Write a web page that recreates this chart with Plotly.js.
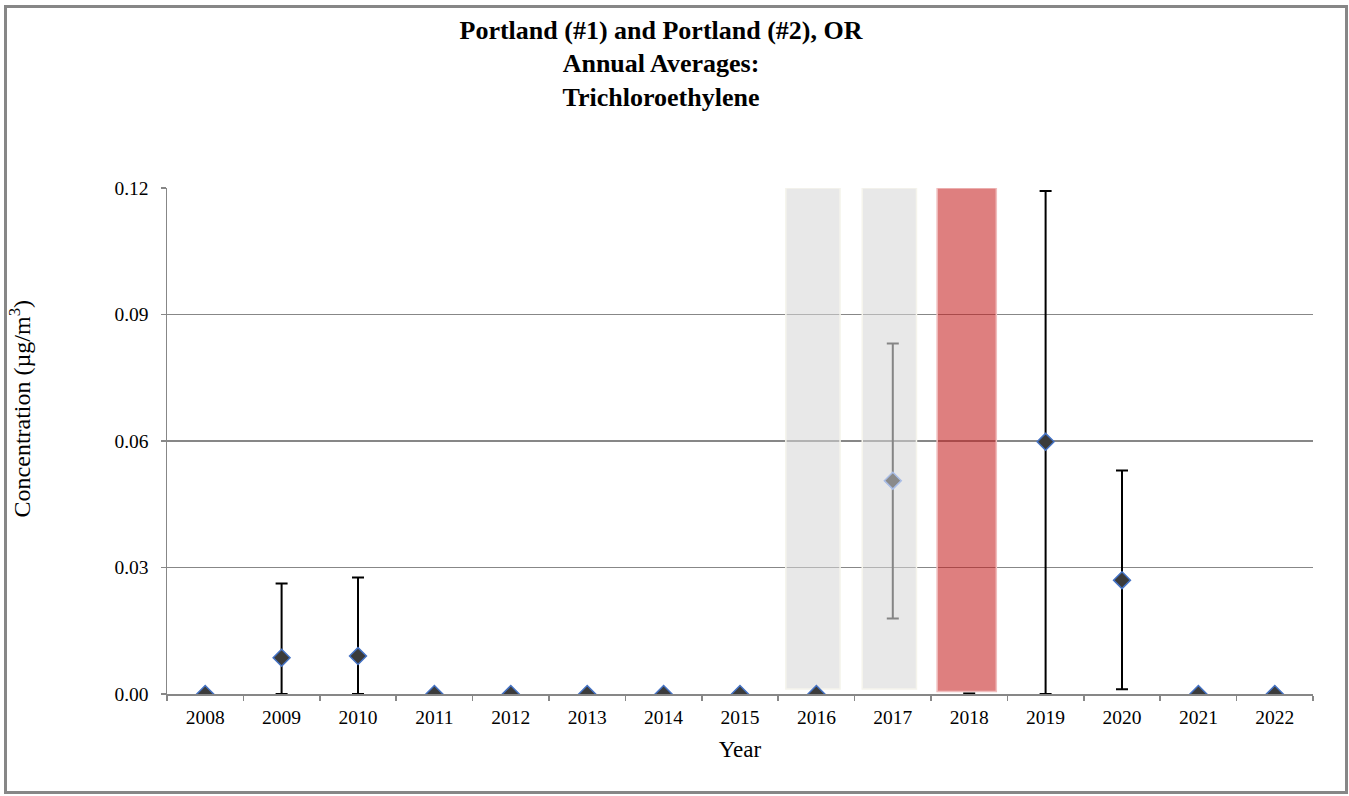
<!DOCTYPE html>
<html>
<head>
<meta charset="utf-8">
<script src="https://cdn.plot.ly/plotly-3.0.1.min.js"></script>
<style>
  html, body { margin: 0; padding: 0; background: #fff; }
  #wrap { position: relative; width: 1349px; height: 796px; }
  #chart { position: absolute; left: 0; top: 0; width: 1349px; height: 796px; }
  #frame { position: absolute; left: 4px; top: 5px; width: 1338px; height: 783px;
           border: 3px solid #878787; pointer-events: none; }
</style>
</head>
<body>
<div id="wrap"><div id="chart"></div><div id="frame"></div></div>
<script>
// ---- data ----
const years = ['2008','2009','2010','2011','2012','2013','2014','2015','2016','2017','2018','2019','2020','2021','2022'];

// annual averages (dark diamonds) and their error bars
const avgYears   = ['2008','2009','2010','2011','2012','2013','2014','2015','2016','2019','2020','2021','2022'];
const avgValues  = [0, 0.0086, 0.0090, 0, 0, 0, 0, 0, 0, 0.0598, 0.0270, 0, 0];
const errPlus    = [0, 0.0176, 0.0186, 0, 0, 0, 0, 0, 0, 0.0595, 0.0260, 0, 0];
const errMinus   = [0, 0.0086, 0.0090, 0, 0, 0, 0, 0, 0, 0.0598, 0.0259, 0, 0];

// incomplete-year average (grey diamond)
const greyYears  = ['2017'];
const greyValues = [0.0506];
const greyPlus   = [0.0325];
const greyMinus  = [0.0327];

// 2018 (value hidden behind band)
const hidYears   = ['2018'];
const hidValues  = [0];

// shaded bands
const grayBandYears = ['2016','2017'];
const grayBandBase  = [0.0012, 0.0012];
const grayBandTop   = [0.12, 0.12];
const redBandYears  = ['2018'];
const redBandBase   = [0.0006];
const redBandTop    = [0.12];

const yTicks = [0, 0.03, 0.06, 0.09, 0.12];

const titleText  = '<b>Portland (#1) and Portland (#2), OR<br>Annual Averages:<br>Trichloroethylene</b>';
const xTitleText = 'Year';
const yTitleText = 'Concentration (µg/m<sup>3</sup>)';

// ---- traces ----
const traces = [
  {
    type: 'bar', x: grayBandYears, base: grayBandBase,
    y: grayBandTop.map((t, i) => t - grayBandBase[i]),
    width: 0.71, offset: -0.4,
    marker: { color: 'rgba(213,213,213,0.55)', line: { color: 'rgba(245,244,236,1)', width: 1.5 } },
    hoverinfo: 'skip', showlegend: false
  },
  {
    type: 'bar', x: redBandYears, base: redBandBase,
    y: redBandTop.map((t, i) => t - redBandBase[i]),
    width: 0.775, offset: -0.42,
    marker: { color: 'rgba(196,27,27,0.56)', line: { color: 'rgba(240,190,190,1)', width: 1.5 } },
    hoverinfo: 'skip', showlegend: false
  },
  {
    type: 'scatter', mode: 'markers', x: hidYears, y: hidValues,
    marker: { symbol: 'diamond', size: 1, color: 'rgba(0,0,0,0)' },
    error_y: { type: 'data', symmetric: true, array: [0], color: '#000', thickness: 3, width: 6 },
    showlegend: false
  },
  {
    type: 'scatter', mode: 'markers', x: greyYears, y: greyValues,
    marker: { symbol: 'diamond', size: 13, color: '#8a8a8a', line: { color: '#a9bde6', width: 1.5 } },
    error_y: { type: 'data', symmetric: false, array: greyPlus, arrayminus: greyMinus,
               color: '#858585', thickness: 2, width: 6 },
    showlegend: false
  },
  {
    type: 'scatter', mode: 'markers', x: avgYears, y: avgValues,
    marker: { symbol: 'diamond', size: 13, color: '#3b3b3b', line: { color: '#4472c4', width: 1.5 } },
    error_y: { type: 'data', symmetric: false, array: errPlus, arrayminus: errMinus,
               color: '#000', thickness: 2, width: 6 },
    showlegend: false
  }
];

const serif = 'Liberation Serif, Times New Roman, serif';

const layout = {
  width: 1349, height: 796,
  margin: { l: 167, r: 36, t: 188, b: 102 },
  paper_bgcolor: '#fff', plot_bgcolor: '#fff',
  barmode: 'overlay',
  title: {
    text: titleText,
    font: { family: serif, size: 26, color: '#000' },
    x: 0.49, xref: 'container', xanchor: 'center',
    y: 0.9516, yref: 'container', yanchor: 'top'
  },
  xaxis: {
    type: 'category', categoryorder: 'array', categoryarray: years,
    range: [-0.5, years.length - 0.5],
    tickson: 'boundaries', ticks: 'outside', ticklen: 5, tickwidth: 1.5, tickcolor: '#878787',
    ticklabelstandoff: 5,
    showline: true, linecolor: '#878787', linewidth: 1.5,
    showgrid: false, zeroline: false,
    tickfont: { family: serif, size: 19.5, color: '#000' },
    title: { text: xTitleText, font: { family: serif, size: 23, color: '#000' }, standoff: 14 },
    fixedrange: true
  },
  yaxis: {
    range: [0, 0.12], tickvals: yTicks, tickformat: '.2f',
    ticks: 'outside', ticklen: 5, tickwidth: 1.5, tickcolor: '#878787',
    ticklabelstandoff: 8,
    showline: true, linecolor: '#878787', linewidth: 1.5,
    showgrid: true, gridcolor: '#878787', gridwidth: 1.5, zeroline: false,
    tickfont: { family: serif, size: 19.5, color: '#000' },
    fixedrange: true
  },
  annotations: [{
    text: yTitleText, textangle: -90, showarrow: false,
    xref: 'paper', yref: 'paper', x: -0.128, y: 0.565,
    xanchor: 'center', yanchor: 'middle',
    font: { family: serif, size: 24, color: '#000' }
  }],
  showlegend: false
};

Plotly.newPlot('chart', traces, layout, { displayModeBar: false, staticPlot: true });
</script>
</body>
</html>
